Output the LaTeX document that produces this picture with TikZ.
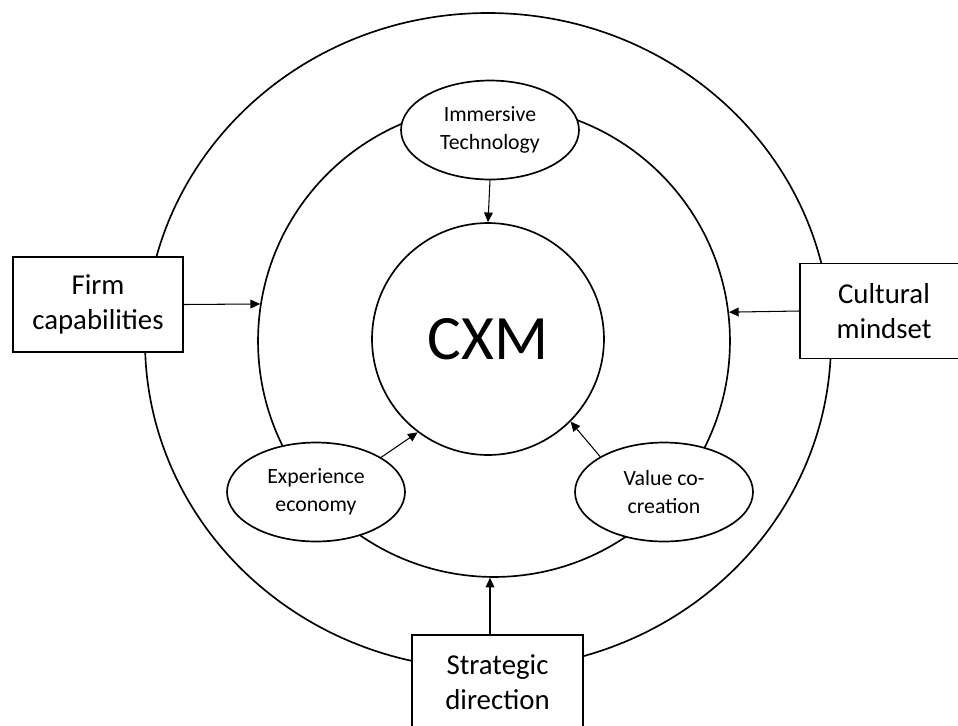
\documentclass[tikz,border=0pt]{standalone}
\usepackage{fontspec}
\setmainfont{Carlito}
\usetikzlibrary{arrows.meta,shapes.geometric,positioning}

\tikzset{
  ring/.style={draw, circle, line width=0.95pt, inner sep=0pt},
  bubble/.style={draw, ellipse, fill=white, line width=0.95pt, align=center,
    inner sep=1pt, minimum width=3.56cm, minimum height=1.98cm,
    font=\fontsize{12.4}{15.9}\selectfont},
  factor/.style={draw, rectangle, fill=white, line width=0.95pt, align=center,
    minimum height=1.9cm, font=\fontsize{16.4}{19.8}\selectfont},
  link/.style={->, line width=0.6pt},
}

\begin{document}
\begin{tikzpicture}[x=0.02cm, y=-0.02cm, >={Triangle[length=5.5pt,width=5pt]}]
  \useasboundingbox (0,0) rectangle (958,725);

  % the three rings
  \draw[line width=0.95pt] (488,341) ellipse [x radius=343, y radius=328];
  \node[ring, minimum size=9.44cm] (mid) at (494,341) {};
  \node[ring, minimum size=4.64cm, font=\fontsize{36}{40}\selectfont] (cxm) at (488,339) {CXM};

  % drivers on the middle ring
  \node[bubble] (imm) at (490,130) {Immersive\\Technology};
  \node[bubble] (exp) at (316,492) {Experience\\economy};
  \node[bubble] (val) at (664,492) {Value co-\\creation};

  % outer factors
  \node[factor, minimum width=3.4cm] (firm) at (98,304.5) {Firm\\capabilities};
  \node[factor, minimum width=3.36cm] (cult) at (884,311) {Cultural\\mindset};
  \node[factor, minimum width=3.42cm] (strat) at (497.5,682.5) {Strategic\\direction};

  \draw[link] (imm.south) -- (cxm.north);
  \draw[link] (exp.28) -- (cxm.233);
  \draw[link] (val.151) -- (cxm.315);
  \draw[link] (firm.east) -- (mid.171);
  \draw[link] (cult.west) -- (mid.7);
  \draw[link] (strat.north -| imm.south) -- (imm.south |- mid.south);
\end{tikzpicture}
\end{document}
